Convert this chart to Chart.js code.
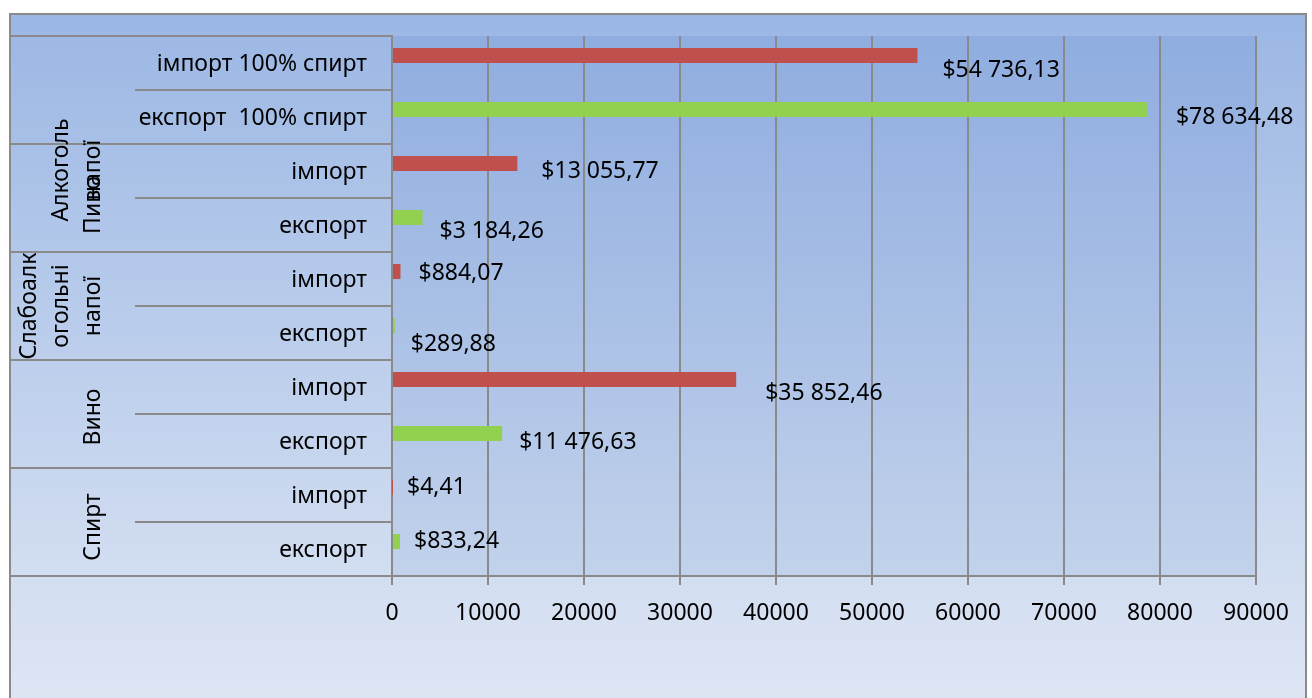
<!DOCTYPE html>
<html>
<head>
<meta charset="utf-8">
<script src="https://cdn.jsdelivr.net/npm/chart.js@4.4.1/dist/chart.umd.min.js"></script>
<style>
  html, body { margin: 0; padding: 0; background: #fff; }
  canvas { display: block; }
</style>
</head>
<body>
<canvas id="chart" width="1312" height="698"></canvas>
<script>
// rows, top to bottom
const rowLabels = [
  'імпорт 100% спирт', 'експорт  100% спирт',
  'імпорт', 'експорт',
  'імпорт', 'експорт',
  'імпорт', 'експорт',
  'імпорт', 'експорт'
]
const flowTypes = ['import', 'export', 'import', 'export', 'import', 'export', 'import', 'export', 'import', 'export']
const amounts = [54736.13, 78634.48, 13055.77, 3184.26, 884.07, 289.88, 35852.46, 11476.63, 4.41, 833.24]

// outer category level
const groupNames = [['Алкоголь', 'напої'], ['Пиво'], ['Слабоалк', 'огольні', 'напої'], ['Вино'], ['Спирт']]
const groupSizes = [2, 2, 2, 2, 2]

const xMin = 0
const xMax = 90000
const xStep = 10000

// label placement tweaks (px): [dx from bar end, dy from row centre]
const labelNudge = [[25, 6], [29, -1.5], [24, -1], [17, 5], [18, -7], [16, 9.5], [29, 5], [17, 0], [15, -9.5], [14, -9.5]]
const groupShift = [80, 7, 0, 3, 5]

const FONT = '"Noto Sans", "Open Sans", sans-serif'
const GRID = '#8a8a8a'

function money(v) {
  const [int, dec] = v.toFixed(2).split('.')
  return '$' + int.replace(/\B(?=(\d{3})+(?!\d))/g, ' ') + ',' + dec
}

const importData = amounts.map((v, i) => flowTypes[i] === 'import' ? v : null)
const exportData = amounts.map((v, i) => flowTypes[i] === 'export' ? v : null)

const backgroundPlugin = {
  id: 'background',
  beforeDraw(chart) {
    const ctx = chart.ctx
    const a = chart.chartArea
    ctx.save()
    ctx.fillStyle = '#fff'
    ctx.fillRect(0, 0, chart.width, chart.height)
    let g = ctx.createLinearGradient(0, 14, 0, 698)
    g.addColorStop(0, '#9bb7e4')
    g.addColorStop(1, '#dee6f4')
    ctx.fillStyle = g
    ctx.fillRect(10, 14, 1296, 700)
    g = ctx.createLinearGradient(0, a.top, 0, a.bottom)
    g.addColorStop(0, '#8fade0')
    g.addColorStop(1, '#c2d2eb')
    ctx.fillStyle = g
    ctx.fillRect(a.left, a.top, a.right - a.left, a.bottom - a.top)
    ctx.strokeStyle = GRID
    ctx.lineWidth = 2
    ctx.strokeRect(10, 14, 1296, 700)
    ctx.restore()
  }
}

const categoryPlugin = {
  id: 'categoryAxis',
  afterDraw(chart) {
    const ctx = chart.ctx
    const y = chart.scales.y
    const a = chart.chartArea
    const rowH = y.getPixelForValue(1) - y.getPixelForValue(0)
    ctx.save()
    ctx.fillStyle = '#000'
    ctx.font = '23px ' + FONT
    ctx.textAlign = 'right'
    ctx.textBaseline = 'alphabetic'
    rowLabels.forEach((lab, i) => {
      ctx.fillText(lab, a.left - 25, y.getPixelForValue(i) + 8)
    })

    // outer level boundaries
    ctx.strokeStyle = GRID
    ctx.lineWidth = 2
    let start = 0
    const edges = [0]
    groupSizes.forEach(n => { start += n; edges.push(start) })
    edges.forEach(e => {
      const py = Math.round(y.getPixelForValue(e) - rowH / 2)
      ctx.beginPath()
      ctx.moveTo(10, py)
      ctx.lineTo(a.left - 255, py)
      ctx.stroke()
    })

    // outer level names, rotated
    ctx.textAlign = 'center'
    ctx.textBaseline = 'middle'
    groupNames.forEach((lines, gi) => {
      const first = edges[gi]
      const last = edges[gi + 1] - 1
      const cy = (y.getPixelForValue(first) + y.getPixelForValue(last)) / 2 + groupShift[gi]
      lines.forEach((line, j) => {
        const cx = 93 - (lines.length - 1 - j) * 32
        ctx.save()
        ctx.translate(cx, cy)
        ctx.rotate(-Math.PI / 2)
        ctx.fillText(line, 0, 0)
        ctx.restore()
      })
    })
    ctx.restore()
  }
}

const valueLabelPlugin = {
  id: 'valueLabels',
  afterDatasetsDraw(chart) {
    const ctx = chart.ctx
    const x = chart.scales.x
    const y = chart.scales.y
    ctx.save()
    ctx.fillStyle = '#000'
    ctx.font = '23px ' + FONT
    ctx.textAlign = 'left'
    ctx.textBaseline = 'alphabetic'
    amounts.forEach((v, i) => {
      const [dx, dy] = labelNudge[i]
      ctx.fillText(money(v), x.getPixelForValue(v) + dx, y.getPixelForValue(i) + dy + 8)
    })
    ctx.restore()
  }
}

new Chart(document.getElementById('chart'), {
  type: 'bar',
  data: {
    labels: rowLabels,
    datasets: [
      { label: 'імпорт', data: importData, backgroundColor: '#c0504d', stack: 'v', barThickness: 15, inflateAmount: 0 },
      { label: 'експорт', data: exportData, backgroundColor: '#92d050', stack: 'v', barThickness: 15, inflateAmount: 0 },
      { label: '', data: rowLabels.map(() => null), stack: 'pad', barThickness: 15 }
    ]
  },
  options: {
    indexAxis: 'y',
    responsive: false,
    animation: false,
    devicePixelRatio: 1,
    layout: { padding: { left: 10, right: 56, top: 36, bottom: 0 } },
    plugins: {
      legend: { display: false },
      tooltip: { enabled: false }
    },
    scales: {
      x: {
        type: 'linear',
        stacked: true,
        min: xMin,
        max: xMax,
        ticks: {
          stepSize: xStep,
          color: '#000',
          padding: 15,
          font: { family: FONT, size: 23 },
          callback: v => String(v)
        },
        grid: { color: GRID, lineWidth: 2, tickLength: 9 },
        border: { color: GRID, width: 2 },
        afterFit: s => { s.height = 122 }
      },
      y: {
        type: 'category',
        stacked: true,
        ticks: { display: false },
        grid: { drawOnChartArea: false, offset: true, tickLength: 257, color: GRID, lineWidth: 2 },
        border: { color: GRID, width: 2 },
        afterFit: s => { s.width = 382 }
      }
    }
  },
  plugins: [backgroundPlugin, categoryPlugin, valueLabelPlugin]
})
</script>
</body>
</html>
